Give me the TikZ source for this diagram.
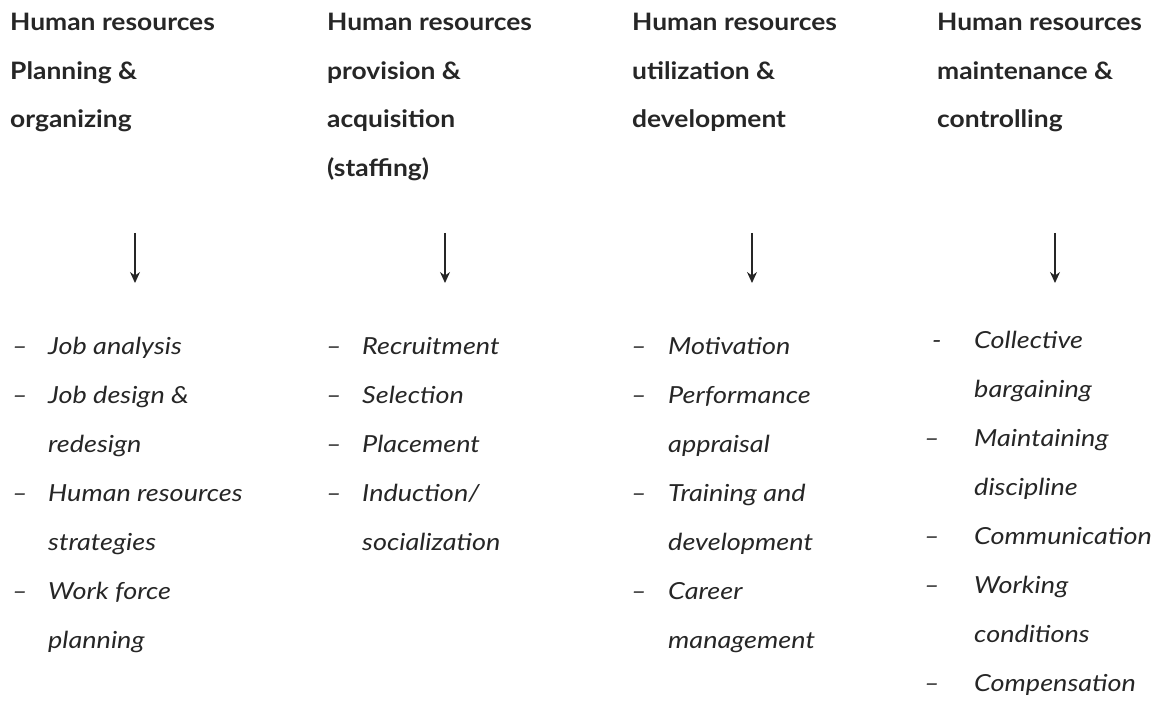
\documentclass[tikz,border=0pt]{standalone}
\usepackage{fontspec}
\setmainfont{Lato}
\newfontfamily\headfont{Lato}[Ligatures=TeX, FakeStretch=1.1]
\newfontfamily\taskfont{Lato}[Ligatures=TeX, FakeStretch=1.15]
\usetikzlibrary{arrows.meta}
\tikzstyle{head} = [anchor=base west, inner sep=0pt, text=black!85, font=\headfont\bfseries\fontsize{24}{48.5}\selectfont]
\tikzstyle{task} = [anchor=base west, inner sep=0pt, text=black!85, font=\taskfont\itshape\fontsize{23.5}{49}\selectfont]
\tikzstyle{flow} = [-{Stealth[length=11pt,width=10pt]}, line width=1.1pt, black!85]

\begin{document}
\begin{tikzpicture}[x=1pt, y=1pt]
  \useasboundingbox (0,0) rectangle (1154,-708);

  % the four function headings
  \node (plan) [head] at (10,-31) {
\begin{tabular}[t]{@{}l@{}}
  Human resources\\
  Planning \&\\
  organizing
\end{tabular}};
  \node (staff) [head] at (327,-31) {
\begin{tabular}[t]{@{}l@{}}
  Human resources\\
  provision \&\\
  acquisition\\
  (staffing)
\end{tabular}};
  \node (util) [head] at (632,-31) {
\begin{tabular}[t]{@{}l@{}}
  Human resources\\
  utilization \&\\
  development
\end{tabular}};
  \node (maint) [head] at (937,-31) {
\begin{tabular}[t]{@{}l@{}}
  Human resources\\
  maintenance \&\\
  controlling
\end{tabular}};

  % activities under each heading
  \node (plantasks) [task] at (12,-355) {
\begin{tabular}[t]{@{}p{36pt}@{}l@{}}
  -- & Job analysis\\
  -- & Job design \&\\
     & redesign\\
  -- & Human resources\\
     & strategies\\
  -- & Work force\\
     & planning
\end{tabular}};
  \node (stafftasks) [task] at (326,-355) {
\begin{tabular}[t]{@{}p{36pt}@{}l@{}}
  -- & Recruitment\\
  -- & Selection\\
  -- & Placement\\
  -- & Induction/\\
     & socialization
\end{tabular}};
  \node (utiltasks) [task] at (631,-355) {
\begin{tabular}[t]{@{}p{37pt}@{}l@{}}
  -- & Motivation\\
  -- & Performance\\
     & appraisal\\
  -- & Training and\\
     & development\\
  -- & Career\\
     & management
\end{tabular}};
  \node (mainttasks) [task] at (924,-349) {
\begin{tabular}[t]{@{}p{50pt}@{}l@{}}
  \hspace*{8pt}- & Collective\\
     & bargaining\\
  -- & Maintaining\\
     & discipline\\
  -- & Communication\\
  -- & Working\\
     & conditions\\
  -- & Compensation
\end{tabular}};

  % arrows from headings down to the lists
  \coordinate (plantop) at (135,-233);   \coordinate (plantip) at (135,-283);
  \coordinate (stafftop) at (445,-233);  \coordinate (stafftip) at (445,-283);
  \coordinate (utiltop) at (752,-233);   \coordinate (utiltip) at (752,-283);
  \coordinate (mainttop) at (1055,-233); \coordinate (mainttip) at (1055,-283);
  \draw[flow] (plantop) -- (plantip);
  \draw[flow] (stafftop) -- (stafftip);
  \draw[flow] (utiltop) -- (utiltip);
  \draw[flow] (mainttop) -- (mainttip);
\end{tikzpicture}
\end{document}
